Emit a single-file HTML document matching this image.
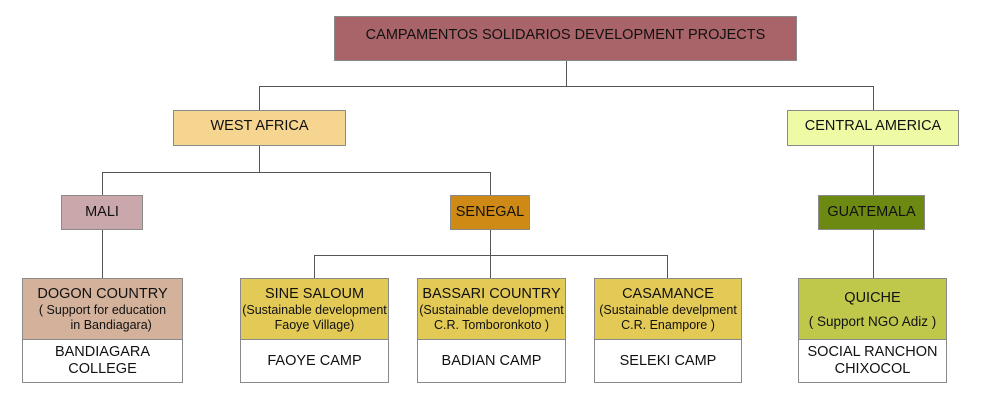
<!DOCTYPE html>
<html><head><style>
body{margin:0;width:990px;height:407px;background:#fff;position:relative;font-family:"Liberation Sans",sans-serif;color:#111;overflow:hidden}
.b{position:absolute;box-sizing:border-box;border:1px solid #8a8a8a;display:flex;align-items:center;justify-content:center;text-align:center;font-size:14.5px;line-height:17px}
.s{font-size:12.5px;line-height:15px}
.l{position:absolute;background:#555}
</style></head><body>
<div class="l" style="left:566px;top:61px;width:1px;height:25px"></div>
<div class="l" style="left:259px;top:86px;width:615px;height:1px"></div>
<div class="l" style="left:259px;top:86px;width:1px;height:24px"></div>
<div class="l" style="left:873px;top:86px;width:1px;height:24px"></div>
<div class="l" style="left:259px;top:146px;width:1px;height:26px"></div>
<div class="l" style="left:102px;top:172px;width:389px;height:1px"></div>
<div class="l" style="left:102px;top:172px;width:1px;height:23px"></div>
<div class="l" style="left:490px;top:172px;width:1px;height:23px"></div>
<div class="l" style="left:873px;top:146px;width:1px;height:49px"></div>
<div class="l" style="left:102px;top:230px;width:1px;height:48px"></div>
<div class="l" style="left:490px;top:230px;width:1px;height:48px"></div>
<div class="l" style="left:314px;top:255px;width:354px;height:1px"></div>
<div class="l" style="left:314px;top:255px;width:1px;height:23px"></div>
<div class="l" style="left:667px;top:255px;width:1px;height:23px"></div>
<div class="l" style="left:873px;top:230px;width:1px;height:48px"></div>

<div class="b" style="left:334px;top:16px;width:463px;height:45px;background:#a86468;padding-bottom:6px">CAMPAMENTOS SOLIDARIOS DEVELOPMENT PROJECTS</div>
<div class="b" style="left:173px;top:110px;width:173px;height:36px;background:#f5d590;padding-bottom:4px">WEST AFRICA</div>
<div class="b" style="left:787px;top:110px;width:172px;height:36px;background:#effaa4;padding-bottom:4px">CENTRAL AMERICA</div>
<div class="b" style="left:61px;top:195px;width:82px;height:35px;background:#c9a7aa">MALI</div>
<div class="b" style="left:450px;top:195px;width:80px;height:35px;background:#cf8a16">SENEGAL</div>
<div class="b" style="left:818px;top:195px;width:107px;height:35px;background:#6c8a12">GUATEMALA</div>

<div class="b" style="left:22px;top:278px;width:161px;height:62px;background:#d3b19a;flex-direction:column"><div>DOGON COUNTRY</div><div class="s">( Support for education<br>&nbsp;&nbsp;&nbsp;&nbsp;&nbsp;in Bandiagara)</div></div>
<div class="b" style="left:22px;top:339px;width:161px;height:44px;background:#fff">BANDIAGARA<br>COLLEGE</div>

<div class="b" style="left:240px;top:278px;width:149px;height:62px;background:#e3c955;flex-direction:column"><div>SINE SALOUM</div><div class="s">(Sustainable development<br>Faoye Village)</div></div>
<div class="b" style="left:240px;top:339px;width:149px;height:44px;background:#fff">FAOYE CAMP</div>

<div class="b" style="left:417px;top:278px;width:149px;height:62px;background:#e3c955;flex-direction:column"><div>BASSARI COUNTRY</div><div class="s">(Sustainable development<br>C.R. Tomboronkoto )</div></div>
<div class="b" style="left:417px;top:339px;width:149px;height:44px;background:#fff">BADIAN CAMP</div>

<div class="b" style="left:594px;top:278px;width:148px;height:62px;background:#e3c955;flex-direction:column"><div>CASAMANCE</div><div class="s">(Sustainable develpment<br>C.R. Enampore )</div></div>
<div class="b" style="left:594px;top:339px;width:148px;height:44px;background:#fff">SELEKI CAMP</div>

<div class="b" style="left:798px;top:278px;width:149px;height:62px;background:#c0c84c;flex-direction:column"><div>QUICHE</div><div class="s" style="margin-top:7px;font-size:13.5px">( Support NGO Adiz )</div></div>
<div class="b" style="left:798px;top:339px;width:149px;height:44px;background:#fff">SOCIAL RANCHON<br>CHIXOCOL</div>
</body></html>
